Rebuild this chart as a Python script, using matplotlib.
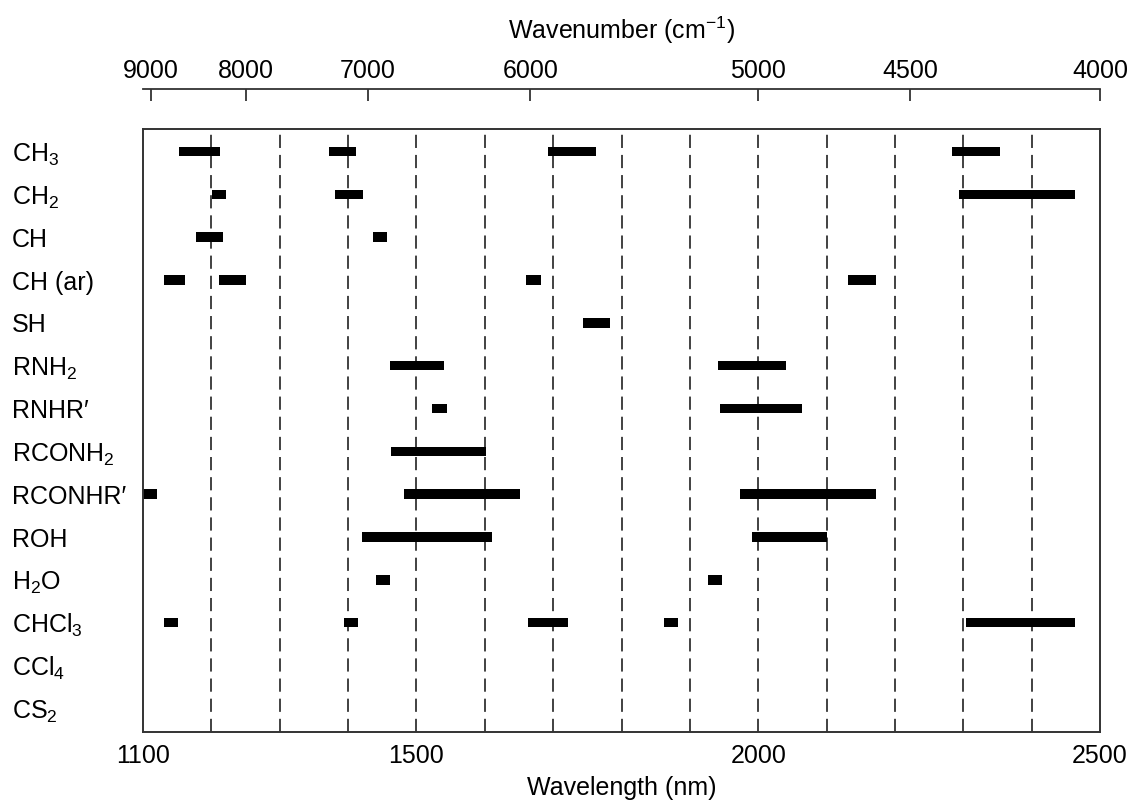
import matplotlib
matplotlib.use("Agg")
import matplotlib.pyplot as plt

plt.rcParams['font.family'] = ['Liberation Sans', 'DejaVu Sans']
plt.rcParams['mathtext.fontset'] = 'custom'
plt.rcParams['mathtext.rm'] = 'Liberation Sans'
plt.rcParams['mathtext.it'] = 'Liberation Sans:italic'
plt.rcParams['lines.scale_dashes'] = False

# Functional groups / solvents, top to bottom
groups = ['CH$_\\mathregular{3}$', 'CH$_\\mathregular{2}$', 'CH', 'CH (ar)', 'SH',
          'RNH$_\\mathregular{2}$', 'RNHR\u2032', 'RCONH$_\\mathregular{2}$', 'RCONHR\u2032',
          'ROH', 'H$_\\mathregular{2}$O', 'CHCl$_\\mathregular{3}$', 'CCl$_\\mathregular{4}$',
          'CS$_\\mathregular{2}$']

# Absorption bands: row index into groups, start and end wavelength (nm)
band_row = [0, 0, 0, 0,
            1, 1, 1,
            2, 2,
            3, 3, 3, 3,
            4,
            5, 5,
            6, 6,
            7,
            8, 8, 8,
            9, 9,
            10, 10,
            11, 11, 11, 11, 11]
band_start = [1152, 1372, 1693, 2284,
              1201, 1381, 2293,
              1177, 1437,
              1130, 1211, 1661, 2132,
              1743,
              1461, 1941,
              1523, 1944,
              1463,
              1100, 1482, 1973,
              1420, 1991,
              1441, 1926,
              1130, 1394, 1663, 1862, 2304]
band_end = [1212, 1412, 1763, 2354,
            1221, 1422, 2464,
            1217, 1457,
            1161, 1251, 1682, 2172,
            1783,
            1541, 2041,
            1544, 2064,
            1602,
            1120, 1652, 2173,
            1610, 2100,
            1462, 1947,
            1151, 1414, 1722, 1883, 2464]

# Axis ticks
wavelength_ticks = [1100, 1500, 2000, 2500]
wavenumber_ticks = [9000, 8000, 7000, 6000, 5000, 4500, 4000]
grid_nm = list(range(1200, 2500, 100))

W, H, DPI = 1132, 801, 100
fig = plt.figure(figsize=(W / DPI, H / DPI), dpi=DPI)
left, right, top, bottom = 143, 1100, 129, 732
ax = fig.add_axes([left / W, 1 - bottom / H, (right - left) / W, (bottom - top) / H])

edge = '#333333'
fs = 18

for x in grid_nm:
    ax.axvline(x, color=edge, lw=1.3, linestyle=(0, (9.5, 5.0)), zorder=1)

widths = [e - s for s, e in zip(band_start, band_end)]
ax.barh(band_row, widths, left=band_start, height=0.22, color='black',
        edgecolor='none', zorder=2)

row_px = 42.84
ax.set_xlim(1100, 2500)
ax.set_ylim(13 + 23.6 / row_px, -22.5 / row_px)
ax.set_xticks(wavelength_ticks)
ax.set_xticklabels([str(t) for t in wavelength_ticks], fontsize=fs)
ax.tick_params(axis='x', length=0, pad=8.5)
ax.set_xlabel('Wavelength (nm)', fontsize=fs, labelpad=6)

ax.set_yticks(range(len(groups)))
ax.set_yticklabels(groups, fontsize=fs)
ax.tick_params(axis='y', length=0, pad=(left - 12) / DPI * 72)
for lab in ax.get_yticklabels():
    lab.set_horizontalalignment('left')

for sp in ax.spines.values():
    sp.set_color(edge)
    sp.set_linewidth(1.4)


def nm_to_wn(x):
    return 1e7 / x


def wn_to_nm(x):
    return 1e7 / x


sec_pos = (bottom - 89) / (bottom - top)
sec = ax.secondary_xaxis(sec_pos, functions=(nm_to_wn, wn_to_nm))
sec.set_xticks(wavenumber_ticks)
sec.set_xticklabels([str(t) for t in wavenumber_ticks], fontsize=fs)
sec.tick_params(axis='x', direction='in', length=8.5, width=1.3, color=edge, pad=4)
for sp in sec.spines.values():
    sp.set_color(edge)
    sp.set_linewidth(1.3)
sec.set_xlabel('Wavenumber (cm$^{\\mathregular{\u22121}}$)', fontsize=fs, labelpad=14.5)

fig.savefig('out.png', dpi=DPI)
